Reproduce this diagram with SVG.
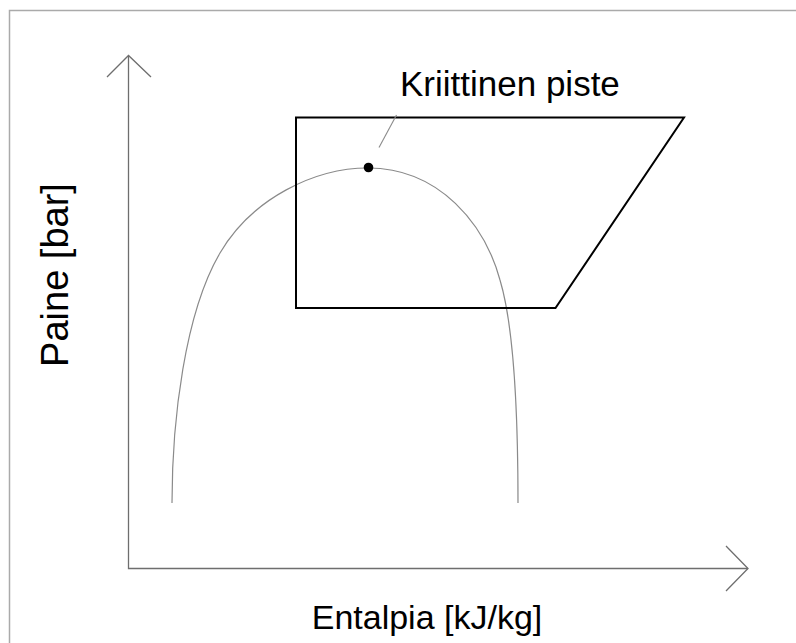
<svg xmlns="http://www.w3.org/2000/svg" width="796" height="643" viewBox="0 0 796 643">
<style>
.axis{fill:none;stroke:#6e6e6e;stroke-width:1.3}
.curve{fill:none;stroke:#8a8a8a;stroke-width:1.2}
.region{fill:none;stroke:#000;stroke-width:2}
.lead{fill:none;stroke:#8a8a8a;stroke-width:1.1}
.lbl{font-family:"Liberation Sans",Arial,sans-serif;font-size:34px;fill:#000}
</style>
<rect width="796" height="643" fill="#fff"/>
<path d="M9.5,643 V10.5 H796" fill="none" stroke="#aaa" stroke-width="1.5"/>
<g id="axes">
<path class="axis" d="M128.5,56 V568.5 H747.5"/>
<path class="axis" d="M107,77 L128.5,55.5 L151,77"/>
<path class="axis" d="M726,546 L748,568.5 L726,591"/>
</g>
<g id="saturation-curve">
<path class="curve" d="M172,503 C172,420 184.8,313 220,253 C252.3,198 315,168 368,168 C440,168 485,225 500,280 C512,320 518,400 518,503"/>
</g>
<g id="supercritical-region">
<path class="region" d="M296,117.5 H684 L555.5,308 H296 Z"/>
</g>
<g id="critical-point">
<circle cx="368.5" cy="167.5" r="4.8" fill="#000"/>
</g>
<g id="connectors">
<path class="lead" d="M396.5,115 L379,147.5"/>
</g>
<g id="labels">
<text class="lbl" x="400" y="96" style="font-size:35px">Kriittinen piste</text>
<text class="lbl" x="427" y="629" text-anchor="middle">Entalpia [kJ/kg]</text>
<text class="lbl" transform="translate(68,275) rotate(-90)" text-anchor="middle" style="font-size:38px">Paine [bar]</text>
</g>
</svg>
